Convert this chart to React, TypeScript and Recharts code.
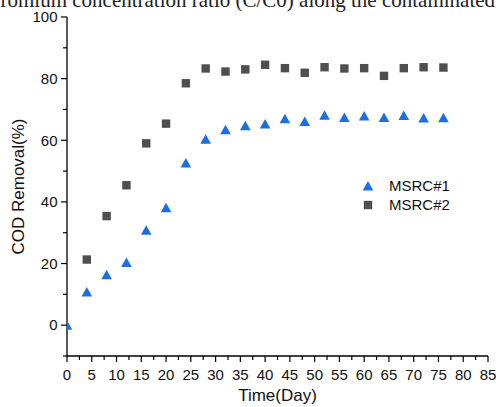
import React from 'react';
import { ScatterChart, Scatter, XAxis, YAxis, Legend } from 'recharts';

const DAYS_1 = [0, 4, 8, 12, 16, 20, 24, 28, 32, 36, 40, 44, 48, 52, 56, 60, 64, 68, 72, 76];
const MSRC_1 = [0, 10.8, 16.4, 20.3, 30.8, 38.1, 52.6, 60.3, 63.4, 64.7, 65.3, 67.0, 66.1, 68.1, 67.4, 67.9, 67.4, 68.0, 67.2, 67.3];
const DAYS_2 = [4, 8, 12, 16, 20, 24, 28, 32, 36, 40, 44, 48, 52, 56, 60, 64, 68, 72, 76];
const MSRC_2 = [21.3, 35.4, 45.4, 59.0, 65.4, 78.5, 83.3, 82.3, 83.0, 84.5, 83.4, 81.9, 83.7, 83.3, 83.4, 80.9, 83.4, 83.7, 83.6];

const SERIES_NAMES = ['MSRC#1', 'MSRC#2'];
const X_TICKS = [0, 2.5, 5, 7.5, 10, 12.5, 15, 17.5, 20, 22.5, 25, 27.5, 30, 32.5, 35, 37.5, 40, 42.5, 45, 47.5, 50, 52.5, 55, 57.5, 60, 62.5, 65, 67.5, 70, 72.5, 75, 77.5, 80, 82.5, 85];
const Y_TICKS = [-10, 0, 10, 20, 30, 40, 50, 60, 70, 80, 90, 100];
const X_TITLE = 'Time(Day)';
const Y_TITLE = 'COD Removal(%)';
const CAPTION = 'Chromium concentration ratio (C/C0) along the contaminated';

const BLUE = '#1c6fe0';
const GRAY = '#4f4f4f';
const FONT = '"Liberation Sans", Arial, sans-serif';

const data1 = DAYS_1.map((d, i) => ({ x: d, y: MSRC_1[i] }));
const data2 = DAYS_2.map((d, i) => ({ x: d, y: MSRC_2[i] }));

const Triangle = (p: any) => {
  const { cx, cy } = p;
  if (cx == null || cy == null) return null;
  return <path d={`M${cx},${cy - 5} L${cx + 5.3},${cy + 4.5} L${cx - 5.3},${cy + 4.5} Z`} fill={BLUE} />;
};
const Square = (p: any) => {
  const { cx, cy } = p;
  if (cx == null || cy == null) return null;
  return <rect x={cx - 4.2} y={cy - 4.2} width={8.4} height={8.4} fill={GRAY} />;
};

const XTick = (p: any) => {
  const { x, y, payload } = p;
  const v = payload.value;
  const major = Math.abs(v % 5) < 1e-6;
  return (
    <g>
      <line x1={x} x2={x} y1={y} y2={y + (major ? 6 : 4)} stroke="#000" strokeWidth={1.2} />
      {major && (
        <text x={x} y={y + 23.5} textAnchor="middle" fontSize={15} fontFamily={FONT} fill="#111">
          {v}
        </text>
      )}
    </g>
  );
};

const YTick = (p: any) => {
  const { x, y, payload } = p;
  const v = payload.value;
  const major = v >= 0 && v % 20 === 0;
  return (
    <g>
      <line x1={x} x2={x - (major ? 6 : 4)} y1={y} y2={y} stroke="#000" strokeWidth={1.2} />
      {major && (
        <text x={x - 9.5} y={y + 5.3} textAnchor="end" fontSize={15} fontFamily={FONT} fill="#111">
          {v}
        </text>
      )}
    </g>
  );
};

const LegendContent = () => (
  <svg width={130} height={40}>
    <path d="M10,5 L15.3,14.5 L4.7,14.5 Z" fill={BLUE} />
    <text x={31} y={15} fontSize={15} fontFamily={FONT} fill="#111">{SERIES_NAMES[0]}</text>
    <rect x={5.8} y={24.8} width={8.4} height={8.4} fill={GRAY} />
    <text x={31} y={34} fontSize={15} fontFamily={FONT} fill="#111">{SERIES_NAMES[1]}</text>
  </svg>
);

export default function App() {
  return (
    <div style={{ position: 'absolute', left: 0, top: 0, width: 496, height: 407, background: '#fff', overflow: 'hidden' }}>
      <div
        style={{
          position: 'absolute',
          left: -24,
          top: -10.5,
          fontFamily: '"Liberation Serif", serif',
          fontSize: 21,
          lineHeight: '21px',
          whiteSpace: 'nowrap',
          color: '#222',
        }}
      >
        {CAPTION}
      </div>
      <ScatterChart width={496} height={407} margin={{ top: 17, right: 8, bottom: 0, left: 0 }}>
        <XAxis
          type="number"
          dataKey="x"
          domain={[0, 85]}
          ticks={X_TICKS}
          interval={0}
          tickSize={0}
          tickMargin={0}
          tickLine={false}
          tick={<XTick />}
          axisLine={{ stroke: '#000', strokeWidth: 1.3 }}
          height={51}
          allowDataOverflow
          label={{
            content: (lp: any) => {
              const vb = lp.viewBox || {};
              return (
                <text x={vb.x + vb.width / 2} y={vb.y + 45} textAnchor="middle" fontSize={17} fontFamily={FONT} fill="#111">
                  {X_TITLE}
                </text>
              );
            },
          }}
        />
        <YAxis
          type="number"
          dataKey="y"
          domain={[-10, 100]}
          ticks={Y_TICKS}
          interval={0}
          tickSize={0}
          tickMargin={0}
          tickLine={false}
          tick={<YTick />}
          axisLine={{ stroke: '#000', strokeWidth: 1.3 }}
          width={67}
          allowDataOverflow
          label={{
            content: (lp: any) => {
              const vb = lp.viewBox || {};
              const cx = vb.x + 18;
              const cy = vb.y + vb.height / 2;
              return (
                <text
                  x={cx}
                  y={cy}
                  transform={`rotate(-90 ${cx} ${cy})`}
                  textAnchor="middle"
                  dominantBaseline="central"
                  fontSize={17}
                  fontFamily={FONT}
                  fill="#111"
                >
                  {Y_TITLE}
                </text>
              );
            },
          }}
        />
        <Legend
          layout="horizontal"
          verticalAlign="middle"
          align="center"
          content={<LegendContent />}
          wrapperStyle={{ position: 'absolute', left: 358, top: 176, width: 130, height: 40, bottom: 'auto' }}
        />
        <Scatter name={SERIES_NAMES[0]} data={data1} shape={<Triangle />} isAnimationActive={false} />
        <Scatter name={SERIES_NAMES[1]} data={data2} shape={<Square />} isAnimationActive={false} />
      </ScatterChart>
    </div>
  );
}
